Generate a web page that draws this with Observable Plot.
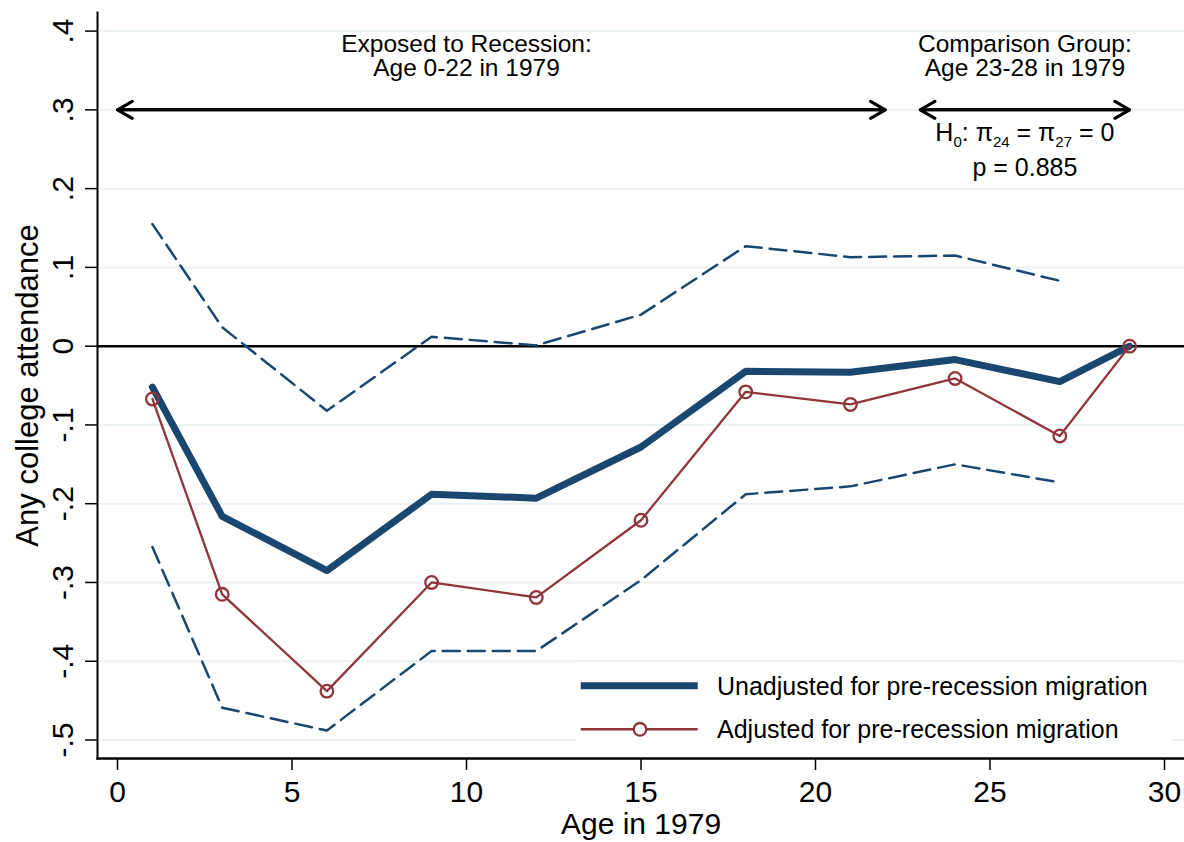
<!DOCTYPE html>
<html>
<head>
<meta charset="utf-8">
<script src="https://cdn.jsdelivr.net/npm/d3@7"></script>
<script src="https://cdn.jsdelivr.net/npm/@observablehq/plot@0.6"></script>
<style>
  body { margin: 0; background: #fff; font-family: "Liberation Sans", Arial, Helvetica, sans-serif; }
  #wrap { position: relative; width: 1184px; height: 842px; }
  #legend { position: absolute; left: 577px; top: 662px; width: 596px; height: 94px; background: #fff; }
  #legend text { font-family: "Liberation Sans", Arial, Helvetica, sans-serif; }
</style>
</head>
<body>
<div id="wrap"><div id="chart"></div><div id="legend"></div></div>
<script>
// ---- data ----
const ages = [1, 3, 6, 9, 12, 15, 18, 21, 24, 27, 29];
const unadjusted = [-0.052, -0.216, -0.285, -0.188, -0.193, -0.128, -0.032, -0.033, -0.017, -0.045, 0];
const adjusted = [-0.067, -0.315, -0.438, -0.300, -0.319, -0.221, -0.058, -0.074, -0.041, -0.114, 0];
const ciAges = [1, 3, 6, 9, 12, 15, 18, 21, 24, 27];
const ciUpper = [0.155, 0.024, -0.082, 0.012, 0.001, 0.040, 0.127, 0.113, 0.115, 0.083];
const ciLower = [-0.255, -0.459, -0.488, -0.387, -0.387, -0.297, -0.188, -0.178, -0.150, -0.173];
const xTicks = [0, 5, 10, 15, 20, 25, 30];
const yTicks = [-0.5, -0.4, -0.3, -0.2, -0.1, 0, 0.1, 0.2, 0.3, 0.4];
const groupLabels = ["Exposed to Recession:\nAge 0-22 in 1979", "Comparison Group:\nAge 23-28 in 1979"];
const groupCenters = [10, 26];
const groupStart = [0, 23];
const groupEnd = [22, 29];
const groupY = 0.3;
const testX = 26;
const testLabels = ["H0: π24 = π27 = 0", "p = 0.885"];
const seriesNames = ["Unadjusted for pre-recession migration", "Adjusted for pre-recession migration"];
const xLabel = "Age in 1979";
const yLabel = "Any college attendance";

// ---- styling ----
const font = '"Liberation Sans", Arial, Helvetica, sans-serif';
const navy = "#1a476f", maroon = "#90353b", gridColor = "#eaf2f3";

const main = ages.map((a, i) => ({age: a, unadj: unadjusted[i], adj: adjusted[i]}));
const ci = ciAges.map((a, i) => ({age: a, hi: ciUpper[i], lo: ciLower[i]}));
const gi = groupLabels.map((_, i) => i);
const fmtY = d => d === 0 ? "0" : d.toFixed(1).replace("0.", ".");

const plot = Plot.plot({
  width: 1184, height: 842,
  marginLeft: 97, marginRight: 0, marginTop: 12, marginBottom: 84,
  x: {domain: [0, 30], insetLeft: 20, insetRight: 20},
  y: {domain: [-0.5, 0.4], insetTop: 18.6, insetBottom: 18.5},
  style: {fontFamily: font, background: "white", color: "black", overflow: "visible"},
  marks: [
    Plot.gridY(yTicks, {stroke: gridColor, strokeOpacity: 1, strokeWidth: 2}),
    Plot.frame({anchor: "left", stroke: "black", strokeWidth: 2}),
    Plot.frame({anchor: "bottom", stroke: "black", strokeWidth: 2.5}),
    Plot.axisX({ticks: xTicks, tickSize: 12, tickPadding: 10, fontSize: 30, label: null, strokeWidth: 1.5}),
    Plot.axisY({ticks: yTicks, tickSize: 12, tickFormat: () => "", label: null, strokeWidth: 1.5}),
    Plot.text(yTicks, {y: d => d, text: fmtY, frameAnchor: "left", dx: -25, rotate: -90,
      textAnchor: "middle", lineAnchor: "bottom", fontSize: 30}),
    Plot.text([xLabel], {text: d => d, frameAnchor: "bottom", dy: 75, lineAnchor: "bottom", fontSize: 30}),
    Plot.text([yLabel], {text: d => d, frameAnchor: "left", dx: -60, rotate: -90,
      textAnchor: "middle", lineAnchor: "bottom", fontSize: 31}),
    Plot.ruleY([0], {stroke: "black", strokeWidth: 2.5}),
    Plot.line(ci, {x: "age", y: "hi", stroke: navy, strokeWidth: 2.5, strokeDasharray: "17,8"}),
    Plot.line(ci, {x: "age", y: "lo", stroke: navy, strokeWidth: 2.5, strokeDasharray: "17,8"}),
    Plot.line(main, {x: "age", y: "unadj", stroke: navy, strokeWidth: 7, strokeLinejoin: "round", strokeLinecap: "round"}),
    Plot.line(main, {x: "age", y: "adj", stroke: maroon, strokeWidth: 2.3}),
    Plot.dot(main, {x: "age", y: "adj", r: 6.3, stroke: maroon, strokeWidth: 2.3, fill: "none"}),
    Plot.arrow(gi, {x1: i => groupStart[i], x2: i => groupEnd[i], y1: () => groupY, y2: () => groupY,
      stroke: "black", strokeWidth: 3, headLength: 8.5}),
    Plot.arrow(gi, {x1: i => groupEnd[i], x2: i => groupStart[i], y1: () => groupY, y2: () => groupY,
      stroke: "black", strokeWidth: 3, headLength: 8.5}),
    Plot.text(gi, {x: i => groupCenters[i], y: () => groupY, text: i => groupLabels[i],
      lineAnchor: "bottom", dy: -33.6, fontSize: 24.5, lineHeight: 1.0}),
    Plot.text([testLabels[0]], {x: () => testX, y: () => groupY, text: d => d,
      lineAnchor: "bottom", dy: 31.4, fontSize: 25}),
    Plot.text([testLabels[1]], {x: () => testX, y: () => groupY, text: d => d,
      lineAnchor: "bottom", dy: 66.4, fontSize: 25})
  ]
});
document.getElementById("chart").appendChild(plot);

// subscripts in the hypothesis label
d3.select(plot).selectAll("text").filter(function () { return this.textContent === testLabels[0]; })
  .each(function () {
    const t = d3.select(this);
    t.text("");
    const parts = [["H", 0], ["0", 1], [": π", 0], ["24", 1], [" = π", 0], ["27", 1], [" = 0", 0]];
    let prev = 0;
    for (const [s, sub] of parts) {
      const shift = sub ? 6 : 0;
      const ts = t.append("tspan").attr("dy", shift - prev).text(s);
      if (sub) ts.attr("font-size", 15);
      prev = shift;
    }
  });

// legend
const lg = d3.select("#legend").append("svg").attr("width", 596).attr("height", 94);
lg.append("line").attr("x1", 3.7).attr("x2", 120.7).attr("y1", 23.7).attr("y2", 23.7)
  .attr("stroke", navy).attr("stroke-width", 7);
lg.append("text").attr("x", 140).attr("y", 33).attr("font-size", 25).text(seriesNames[0]);
lg.append("line").attr("x1", 3.7).attr("x2", 120.7).attr("y1", 67.3).attr("y2", 67.3)
  .attr("stroke", maroon).attr("stroke-width", 2.5);
lg.append("circle").attr("cx", 63).attr("cy", 67.3).attr("r", 6.3).attr("fill", "white")
  .attr("stroke", maroon).attr("stroke-width", 2.3);
lg.append("text").attr("x", 140).attr("y", 76).attr("font-size", 25).text(seriesNames[1]);
</script>
</body>
</html>
